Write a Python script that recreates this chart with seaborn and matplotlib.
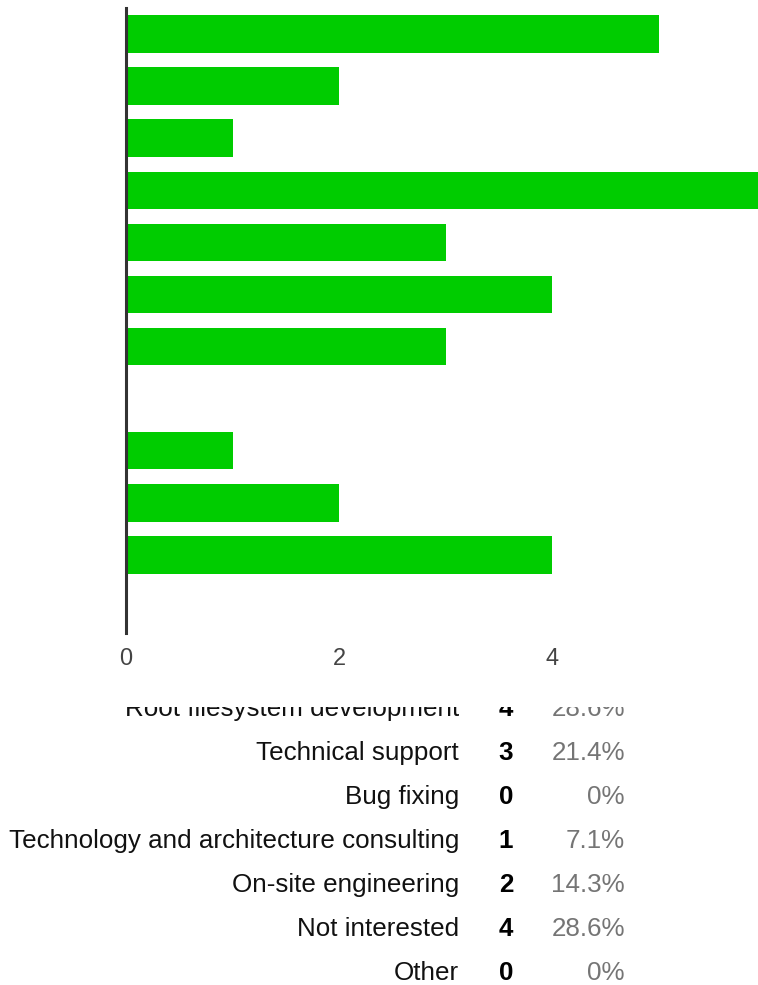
import numpy as np
import pandas as pd
import seaborn as sns
import matplotlib.pyplot as plt

sns.set_style("white")
plt.rcParams['font.family'] = ['Liberation Sans', 'DejaVu Sans']

# ----[data]----
# first five option names are cut off in the source picture
options = ["(hidden option 1)", "(hidden option 2)", "(hidden option 3)",
           "(hidden option 4)", "(hidden option 5)",
           "Root filesystem development", "Technical support", "Bug fixing",
           "Technology and architecture consulting", "On-site engineering",
           "Not interested", "Other"]
counts = [5, 2, 1, 6, 3, 4, 3, 0, 1, 2, 4, 0]
respondents = 14
xticks = [0, 2, 4]

df = pd.DataFrame({"option": options, "count": counts})

W, H = 758, 985
fig = plt.figure(figsize=(W / 100, H / 100), dpi=100)

# ----[bar chart]----
ax = fig.add_axes([126 / W, (H - 633) / H, 639 / W, 625 / H])
sns.barplot(data=df, x="count", y="option", orient="h", color="#00cc00",
            saturation=1, width=0.72, linewidth=0, ax=ax)
ax.set_xlim(0, 6)
ax.set_xticks(xticks)
ax.set_yticks([])
ax.set_xlabel("")
ax.set_ylabel("")
ax.tick_params(axis="x", length=0, pad=11, labelsize=17, labelcolor="#444444")
for s in ["top", "right", "bottom"]:
    ax.spines[s].set_visible(False)
ax.spines["left"].set_color("#333333")
ax.spines["left"].set_linewidth(2.2)

# ----[summary table, scrolled so the top rows are hidden]----
clip_top = 707
tab = fig.add_axes([0, 0, 1, (H - clip_top) / H])
tab.set_xlim(0, W)
tab.set_ylim(H, clip_top)
tab.axis("off")
first_visible = 5
fs = 18.7
for i, (name, c) in enumerate(zip(options, counts)):
    y = 716 + 44 * (i - first_visible)
    if y < clip_top:
        continue  # scrolled out of view
    pct = "0%" if c == 0 else f"{100 * c / respondents:.1f}%"
    tab.text(459, y, name, ha="right", va="baseline", fontsize=fs,
             color="#111111", clip_on=True)
    tab.text(506, y, str(c), ha="center", va="baseline", fontsize=fs,
             fontweight="bold", color="#000000", clip_on=True)
    tab.text(625, y, pct, ha="right", va="baseline", fontsize=fs,
             color="#757575", clip_on=True)

fig.savefig("out.png", dpi=100)
